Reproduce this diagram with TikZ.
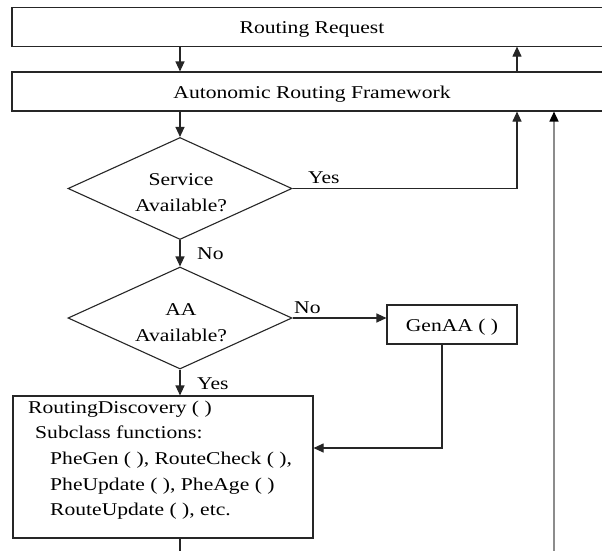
\documentclass[tikz,border=0pt]{standalone}
\usepackage{fontspec}
\setmainfont{Liberation Serif}[FakeStretch=1.2]
\usetikzlibrary{shapes.geometric,arrows.meta,calc}
\begin{document}
\begin{tikzpicture}[x=1pt,y=-1pt,
  line/.style={draw=black!85, line width=1.1pt},
  arr/.style={line, -{Triangle[length=10pt,width=9pt]}},
  graylink/.style={draw=black!45, line width=1.5pt, -{Triangle[length=10pt,width=9pt,color=black]}},
  box/.style={draw=black!85, line width=1.1pt, rectangle, inner sep=0pt, text height=14pt, text depth=0pt},
  dec/.style={draw=black!85, line width=1.1pt, diamond, minimum width=224pt, minimum height=102pt, inner sep=0pt, aspect=2.2},
  txt/.style={inner sep=0pt, anchor=base},
  lbl/.style={inner sep=0pt, anchor=base west},
  font=\fontsize{18pt}{25.5pt}\selectfont]
\useasboundingbox (0,0) rectangle (602,550);
\clip (0,0) rectangle (602,550);
\fill[white] (0,0) rectangle (602,550);

% boxes and decisions
\node[box, minimum width=600pt, minimum height=38.7pt] (req) at (312,26.7) {Routing Request};
\node[box, minimum width=600pt, minimum height=39pt] (arf) at (312,91.5) {Autonomic Routing Framework};
\node[dec] (d1) at (180,188.5) {};
\node[txt] (d1a) at (181,185.7) {Service};
\node[txt] (d1b) at (181,211) {Available?};
\node[dec] (d2) at (180,318) {};
\node[txt] (d2a) at (181,315) {AA};
\node[txt] (d2b) at (181,341) {Available?};
\node[box, minimum width=130pt, minimum height=39pt] (ga) at (452,324.5) {GenAA ( )};
\node[draw=black!85, line width=1.1pt, rectangle, inner sep=0pt, minimum width=300pt, minimum height=142pt] (rd) at (163,467) {};
\node[lbl] (rd1) at (28,413) {RoutingDiscovery ( )};
\node[lbl] (rd2) at (35,438.5) {Subclass functions:};
\node[lbl] (rd3) at (50,464) {PheGen ( ), RouteCheck ( ),};
\node[lbl] (rd4) at (50,490) {PheUpdate ( ), PheAge ( )};
\node[lbl] (rd5) at (50,515.5) {RouteUpdate ( ), etc.};

% connector labels
\node[lbl] (yes1) at (308,183) {Yes};
\node[lbl] (no1) at (197,259) {No};
\node[lbl] (no2) at (294,313) {No};
\node[lbl] (yes2) at (197,389) {Yes};

% helper coordinates
\coordinate (c1) at (517,0);
\coordinate (c3) at (0,448);
\coordinate (c4) at (0,560);
\coordinate (c5) at (554,560);

% connectors
\draw[arr] (req.south -| d1.north) -- (arf.north -| d1.north);
\draw[arr] (arf.north -| c1) -- (req.south -| c1);
\draw[arr] (arf.south -| d1.north) -- (d1.north);
\draw[arr] (d1.east) -| (arf.south -| c1);
\draw[arr] (d1.south) -- (d2.north);
\draw[arr] (d2.east) -- (d2.east -| ga.west);
\draw[arr] ([xshift=-10pt]ga.south) |- (rd.east |- c3);
\draw[arr] (d2.south) -- (d2.south |- rd.north);
\draw[line] (d2.south |- rd.south) -- (d2.south |- c4);
\draw[graylink] (c5) -- (arf.south -| c5);
\end{tikzpicture}
\end{document}
